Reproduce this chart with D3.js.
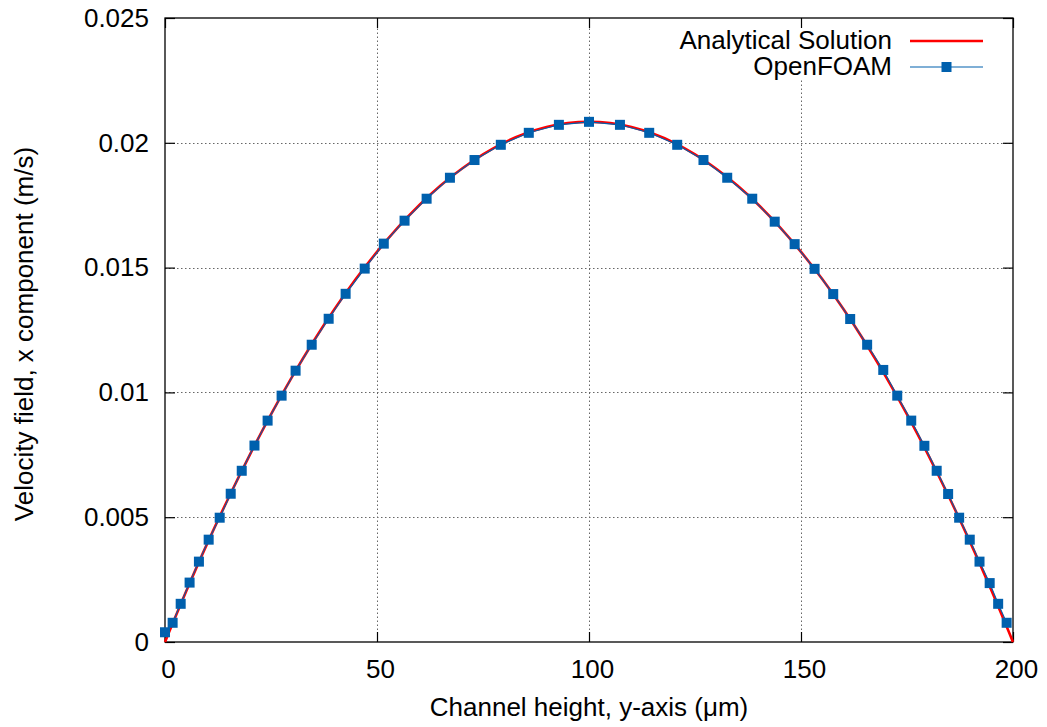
<!DOCTYPE html>
<html>
<head>
<meta charset="utf-8">
<script src="https://cdn.jsdelivr.net/npm/d3@7"></script>
<style>
  html, body { margin: 0; padding: 0; background: #fff; }
  svg { display: block; font-family: "Liberation Sans", Arial, Helvetica, sans-serif; }
</style>
</head>
<body>
<svg id="chart" width="1047" height="727"></svg>
<script>
// ---- data ----
const xTicks = [0, 50, 100, 150, 200];
const yTicks = [0, 0.005, 0.01, 0.015, 0.02, 0.025];
const yTickLabels = ["0", "0.005", "0.01", "0.015", "0.02", "0.025"];

// Analytical solution (channel height in µm, velocity in m/s)
const analyticalY = [0, 5, 10, 15, 20, 25, 30, 35, 40, 45, 50, 55, 60, 65, 70, 75, 80, 85, 90, 95, 100,
  105, 110, 115, 120, 125, 130, 135, 140, 145, 150, 155, 160, 165, 170, 175, 180, 185, 190, 195, 200];
const analyticalU = [0, 0.00203, 0.00396, 0.00578, 0.0075, 0.00912, 0.01063, 0.01204, 0.01334, 0.01454, 0.01563,
  0.01662, 0.01751, 0.01829, 0.01896, 0.01954, 0.02001, 0.02037, 0.02063, 0.02079, 0.02084,
  0.02079, 0.02063, 0.02037, 0.02001, 0.01954, 0.01896, 0.01829, 0.01751, 0.01662, 0.01563,
  0.01454, 0.01334, 0.01204, 0.01063, 0.00912, 0.0075, 0.00578, 0.00396, 0.00203, 0];

// OpenFOAM sampled values
const foamY = [0, 1.8, 3.7, 5.8, 8.0, 10.3, 12.9, 15.5, 18.1, 21.1, 24.2, 27.5, 30.8, 34.6, 38.6, 42.6, 47.1,
  51.6, 56.5, 61.7, 67.2, 73.0, 79.2, 85.8, 92.9, 100.0, 107.3, 114.2, 120.8, 127.0, 132.6, 138.5, 143.8,
  148.5, 153.2, 157.6, 161.6, 165.6, 169.4, 172.7, 176.0, 179.1, 182.0, 184.7, 187.3, 189.8, 192.1, 194.5,
  196.5, 198.5];
const foamU = [0.00039, 0.00077, 0.00153, 0.00238, 0.00322, 0.0041, 0.00498, 0.00594, 0.00686, 0.00787,
  0.00887, 0.00987, 0.01087, 0.01191, 0.01295, 0.01395, 0.01496, 0.01596, 0.01688, 0.01776, 0.0186,
  0.01931, 0.01992, 0.0204, 0.02072, 0.02084, 0.02072, 0.0204, 0.01992, 0.01931, 0.0186, 0.01776,
  0.01684, 0.01594, 0.01495, 0.01394, 0.01294, 0.01191, 0.0109, 0.00987, 0.00887, 0.00786, 0.00686,
  0.00593, 0.00498, 0.0041, 0.00322, 0.00236, 0.00153, 0.00077];

const seriesNames = ["Analytical Solution", "OpenFOAM"];
const xTitle = "Channel height, y-axis (μm)";
const yTitle = "Velocity field, x component (m/s)";

// ---- layout ----
const L = 165, R = 1013, T = 18, B = 642;
const FS = 26;
const svg = d3.select("#chart");

const x = d3.scaleLinear().domain([0, 200]).range([L, R]);
const y = d3.scaleLinear().domain([0, 0.025]).range([B, T]);

// grid
const grid = svg.append("g").attr("stroke", "#666").attr("stroke-width", 1)
  .attr("stroke-dasharray", "1.5,2.5").attr("fill", "none");
grid.selectAll("line.vx").data(xTicks.slice(1, -1)).join("line")
  .attr("x1", d => Math.round(x(d)) + 0.5).attr("x2", d => Math.round(x(d)) + 0.5)
  .attr("y1", B).attr("y2", T);
grid.selectAll("line.hy").data(yTicks.slice(1, -1)).join("line")
  .attr("y1", d => Math.round(y(d)) + 0.5).attr("y2", d => Math.round(y(d)) + 0.5)
  .attr("x1", L).attr("x2", R);

// legend background (opaque key hides grid)
svg.append("rect").attr("x", 672).attr("y", 27).attr("width", 322).attr("height", 53).attr("fill", "#fff");

// axes with mirrored inward ticks
const tickLen = 10;
const axB = svg.append("g").attr("transform", `translate(0,${B})`)
  .call(d3.axisBottom(x).tickValues(xTicks).tickSize(-tickLen).tickFormat(d3.format("d")).tickPadding(18));
const axT = svg.append("g").attr("transform", `translate(0,${T})`)
  .call(d3.axisTop(x).tickValues(xTicks).tickSize(-tickLen).tickFormat(""));
const axL = svg.append("g").attr("transform", `translate(${L},0)`)
  .call(d3.axisLeft(y).tickValues(yTicks).tickSize(-tickLen).tickFormat((d, i) => yTickLabels[i]).tickPadding(16));
const axR = svg.append("g").attr("transform", `translate(${R},0)`)
  .call(d3.axisRight(y).tickValues(yTicks).tickSize(-tickLen).tickFormat(""));
[axB, axT, axL, axR].forEach(a => {
  a.select(".domain").remove();
  a.selectAll(".tick line").attr("stroke", "#000").attr("stroke-width", 1.2);
  a.selectAll("text").attr("font-size", FS).attr("fill", "#000").attr("font-family", "Liberation Sans, Arial, sans-serif");
});
axB.selectAll(".tick text").attr("dx", 3);

// border
svg.append("rect").attr("x", L).attr("y", T).attr("width", R - L).attr("height", B - T)
  .attr("fill", "none").attr("stroke", "#000").attr("stroke-width", 1.3);

// series
const aData = analyticalY.map((v, i) => [v, analyticalU[i]]);
const fData = foamY.map((v, i) => [v, foamU[i]]);

svg.append("path").datum(aData)
  .attr("fill", "none").attr("stroke", "#ff0000").attr("stroke-width", 2.6)
  .attr("d", d3.line().x(d => x(d[0])).y(d => y(d[1])).curve(d3.curveMonotoneX));

svg.append("path").datum(fData)
  .attr("fill", "none").attr("stroke", "#0060ad").attr("stroke-width", 1.1)
  .attr("d", d3.line().x(d => x(d[0])).y(d => y(d[1])));

const ms = 10;
svg.append("g").selectAll("rect").data(fData).join("rect")
  .attr("x", d => x(d[0]) - ms / 2).attr("y", d => y(d[1]) - ms / 2)
  .attr("width", ms).attr("height", ms).attr("fill", "#0060ad");

// legend
const lg = svg.append("g").attr("font-size", FS);
lg.append("text").attr("x", 892).attr("y", 49).attr("text-anchor", "end").text(seriesNames[0]);
lg.append("line").attr("x1", 910).attr("x2", 983).attr("y1", 41).attr("y2", 41)
  .attr("stroke", "#ff0000").attr("stroke-width", 2.6);
lg.append("text").attr("x", 892).attr("y", 75).attr("text-anchor", "end").text(seriesNames[1]);
lg.append("line").attr("x1", 910).attr("x2", 983).attr("y1", 67).attr("y2", 67)
  .attr("stroke", "#0060ad").attr("stroke-width", 1.1);
lg.append("rect").attr("x", 946.5 - ms / 2).attr("y", 67 - ms / 2).attr("width", ms).attr("height", ms)
  .attr("fill", "#0060ad");

// titles
svg.append("text").attr("x", 589).attr("y", 716).attr("text-anchor", "middle")
  .attr("font-size", FS).text(xTitle);
svg.append("text").attr("transform", "translate(33,334) rotate(-90)").attr("text-anchor", "middle")
  .attr("font-size", FS).text(yTitle);
</script>
</body>
</html>
